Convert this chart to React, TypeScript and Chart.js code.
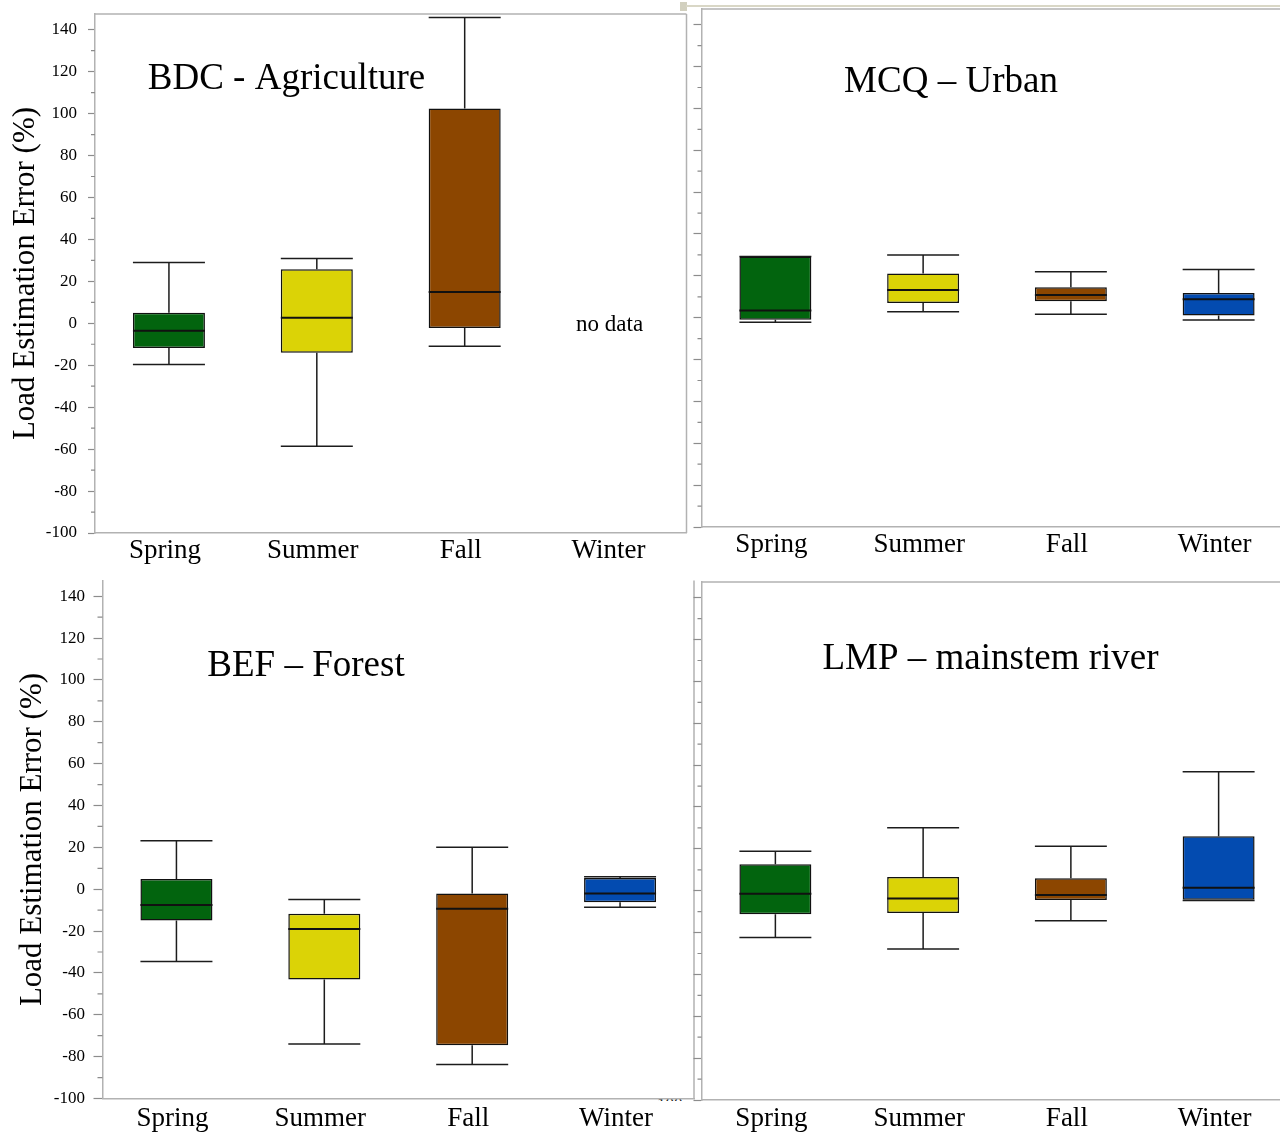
import React, { useEffect, useRef } from 'react';
import { Chart, registerables } from 'chart.js';

Chart.register(...registerables);

const seasons = ['Spring', 'Summer', 'Fall', 'Winter'];
const seasonColors = ['#02640e', '#dbd306', '#8c4600', '#034bb0'];
const yAxisTitle = 'Load Estimation Error (%)';
const yMinValue = -100;
const yMaxValue = 147.5;
const yStep = 10;
const yLabelStep = 20;

// BDC - Agriculture
const bdcTitle = 'BDC - Agriculture';
const bdcMin = [-19.7, -58.6, -11.0, null];
const bdcQ1 = [-11.8, -14.1, -2.2, null];
const bdcMedian = [-3.6, 2.7, 14.9, null];
const bdcQ3 = [5.0, 25.8, 102.4, null];
const bdcMax = [29.0, 30.9, 145.8, null];
const bdcNote = 'no data';

// MCQ - Urban
const mcqTitle = 'MCQ \u2013 Urban';
const mcqMin = [-2.2, 2.8, 1.6, -1.1];
const mcqQ1 = [-1.0, 7.0, 7.9, 1.0];
const mcqMedian = [3.4, 13.2, 10.9, 8.8];
const mcqQ3 = [29.3, 21.1, 14.5, 11.8];
const mcqMax = [29.3, 30.0, 21.9, 23.0];

// BEF - Forest
const befTitle = 'BEF \u2013 Forest';
const befMin = [-34.6, -74.0, -83.8, -8.6];
const befQ1 = [-14.9, -43.1, -74.5, -6.2];
const befMedian = [-7.6, -19.0, -9.3, -2.0];
const befQ3 = [4.9, -11.7, -2.1, 5.4];
const befMax = [23.2, -4.9, 20.1, 5.9];

// LMP - mainstem river
const lmpTitle = 'LMP \u2013 mainstem river';
const lmpMin = [-22.3, -27.9, -14.4, -4.7];
const lmpQ1 = [-11.3, -10.6, -4.4, -4.3];
const lmpMedian = [-1.5, -3.7, -2.0, 1.4];
const lmpQ3 = [12.6, 6.6, 5.9, 26.0];
const lmpMax = [18.9, 30.1, 21.3, 56.8];

const SERIF = '"Liberation Serif", "Times New Roman", serif';
const FRAME = '#b2b2b2';
const TICK = '#8c8c8c';

type Stats = {
  min: (number | null)[];
  q1: (number | null)[];
  median: (number | null)[];
  q3: (number | null)[];
  max: (number | null)[];
};

type PanelProps = {
  left: number;
  top: number;
  width: number;
  height: number;
  yWidth: number;
  xHeight: number;
  padTop: number;
  padRight: number;
  showYLabels: boolean;
  yTitlePad: number;
  tickLen: number;
  minorLen: number;
  labelPad: number;
  xPad: number;
  frameTop: boolean;
  frameRight: boolean;
  title: string;
  titleX: number;
  titleY: number;
  stats: Stats;
  note?: string;
};

function Panel(p: PanelProps) {
  const ref = useRef<HTMLCanvasElement | null>(null);
  useEffect(() => {
    if (!ref.current) return;
    const s = p.stats;

    const boxPlugin = {
      id: 'boxWhiskers',
      beforeDatasetsDraw(chart: any) {
        const meta = chart.getDatasetMeta(0);
        const y = chart.scales.y;
        const ctx = chart.ctx;
        ctx.save();
        ctx.strokeStyle = '#1c1c1c';
        ctx.lineWidth = 1.5;
        meta.data.forEach((bar: any, i: number) => {
          if (s.min[i] == null) return;
          const { x, width } = bar.getProps(['x', 'width'], true);
          const yMin = y.getPixelForValue(s.min[i]);
          const yMax = y.getPixelForValue(s.max[i]);
          const yQ1 = y.getPixelForValue(s.q1[i]);
          const yQ3 = y.getPixelForValue(s.q3[i]);
          ctx.beginPath();
          ctx.moveTo(x, yQ3);
          ctx.lineTo(x, yMax);
          ctx.moveTo(x, yQ1);
          ctx.lineTo(x, yMin);
          ctx.moveTo(x - width / 2, yMax);
          ctx.lineTo(x + width / 2, yMax);
          ctx.moveTo(x - width / 2, yMin);
          ctx.lineTo(x + width / 2, yMin);
          ctx.stroke();
        });
        ctx.restore();
      },
      afterDatasetsDraw(chart: any) {
        const meta = chart.getDatasetMeta(0);
        const y = chart.scales.y;
        const ctx = chart.ctx;
        ctx.save();
        ctx.strokeStyle = '#111';
        ctx.lineWidth = 2;
        meta.data.forEach((bar: any, i: number) => {
          if (s.median[i] == null) return;
          const { x, width } = bar.getProps(['x', 'width'], true);
          const ym = y.getPixelForValue(s.median[i]);
          ctx.beginPath();
          ctx.moveTo(x - width / 2, ym);
          ctx.lineTo(x + width / 2, ym);
          ctx.stroke();
        });
        ctx.restore();
      },
    };

    const decoPlugin = {
      id: 'deco',
      afterDraw(chart: any) {
        const ctx = chart.ctx;
        const a = chart.chartArea;
        const y = chart.scales.y;
        const x = chart.scales.x;
        ctx.save();
        ctx.strokeStyle = FRAME;
        ctx.lineWidth = 1.5;
        ctx.beginPath();
        if (p.frameTop) {
          ctx.moveTo(a.left, a.top);
          ctx.lineTo(a.right, a.top);
        }
        if (p.frameRight) {
          ctx.moveTo(a.right, a.top);
          ctx.lineTo(a.right, a.bottom);
        }
        ctx.stroke();
        ctx.strokeStyle = TICK;
        ctx.lineWidth = 1.2;
        ctx.beginPath();
        y.ticks.forEach((t: any) => {
          if (Math.abs(t.value % yLabelStep) < 1e-9) return;
          const py = y.getPixelForValue(t.value);
          ctx.moveTo(a.left - p.minorLen, py);
          ctx.lineTo(a.left, py);
        });
        ctx.stroke();
        ctx.fillStyle = '#000';
        ctx.font = `37px ${SERIF}`;
        ctx.textAlign = 'center';
        ctx.textBaseline = 'middle';
        ctx.fillText(p.title, p.titleX, p.titleY);
        if (p.note) {
          s.min.forEach((v, i) => {
            if (v != null) return;
            ctx.font = `23px ${SERIF}`;
            ctx.fillText(p.note as string, x.getPixelForValue(i) - 3, y.getPixelForValue(0) + 1.5);
          });
        }
        ctx.restore();
      },
    };

    const chart = new Chart(ref.current, {
      type: 'bar',
      data: {
        labels: seasons,
        datasets: [
          {
            data: seasons.map((_, i) =>
              s.q1[i] == null ? null : [s.q1[i] as number, s.q3[i] as number]
            ) as any,
            backgroundColor: seasonColors,
            borderColor: '#111',
            borderWidth: 1.5,
            borderSkipped: false,
            barPercentage: 0.487,
            categoryPercentage: 1,
          },
        ],
      },
      options: {
        responsive: false,
        animation: false,
        events: [],
        layout: { padding: { left: 0, top: p.padTop, right: p.padRight, bottom: 0 } },
        plugins: {
          legend: { display: false },
          tooltip: { enabled: false },
        },
        scales: {
          x: {
            type: 'category',
            offset: true,
            grid: { display: false, drawTicks: false },
            border: { display: true, color: FRAME, width: 1.5 },
            ticks: {
              color: '#000',
              font: { family: SERIF, size: 27 },
              padding: p.xPad,
              labelOffset: -4,
              maxRotation: 0,
              autoSkip: false,
            },
            afterFit: (sc: any) => {
              sc.height = p.xHeight;
              sc.paddingLeft = 0;
              sc.paddingRight = 0;
            },
          },
          y: {
            type: 'linear',
            min: yMinValue,
            max: yMaxValue,
            grid: {
              display: true,
              drawOnChartArea: false,
              drawTicks: true,
              tickLength: p.tickLen,
              tickWidth: 1.2,
              tickColor: (c: any) =>
                c.tick && Math.abs(c.tick.value % yLabelStep) < 1e-9 ? TICK : 'rgba(0,0,0,0)',
            },
            border: { display: true, color: FRAME, width: 1.5 },
            ticks: {
              display: p.showYLabels,
              stepSize: yStep,
              includeBounds: false,
              autoSkip: false,
              color: '#000',
              font: { family: SERIF, size: 17 },
              padding: p.labelPad,
              callback: (v: any) => (Math.abs(Number(v) % yLabelStep) < 1e-9 ? String(v) : ''),
            },
            title: {
              display: p.showYLabels,
              text: yAxisTitle,
              color: '#000',
              font: { family: SERIF, size: 31 },
              padding: { top: p.yTitlePad, bottom: 0 },
            },
            afterFit: (sc: any) => {
              sc.width = p.yWidth;
              sc.paddingTop = 0;
              sc.paddingBottom = 0;
            },
          },
        },
      } as any,
      plugins: [boxPlugin, decoPlugin],
    });
    return () => chart.destroy();
  }, []);
  return (
    <canvas
      ref={ref}
      width={p.width}
      height={p.height}
      style={{ position: 'absolute', left: p.left, top: p.top, width: p.width, height: p.height }}
    />
  );
}

export default function App() {
  return (
    <div
      style={{
        position: 'fixed',
        left: 0,
        top: 0,
        width: 1280,
        height: 1133,
        overflow: 'hidden',
        background: '#fff',
      }}
    >
      <div style={{ position: 'absolute', left: 680, top: 2, width: 7, height: 9, background: '#d2d0bf' }} />
      <div style={{ position: 'absolute', left: 686, top: 5, width: 600, height: 1.5, background: '#d9d7c6' }} />
      <div
        style={{
          position: 'absolute',
          left: 657,
          top: 1096,
          width: 30,
          height: 5,
          overflow: 'hidden',
        }}
      >
        <div style={{ fontFamily: SERIF, fontSize: 17, lineHeight: '17px', color: '#222', marginTop: -1 }}>100</div>
      </div>
      <Panel
        left={0}
        top={0}
        width={690}
        height={575}
        yWidth={95}
        xHeight={42}
        padTop={14}
        padRight={3.5}
        showYLabels={true}
        yTitlePad={7}
        tickLen={7}
        minorLen={4}
        labelPad={11}
        xPad={2}
        frameTop={true}
        frameRight={true}
        title={bdcTitle}
        titleX={286.5}
        titleY={79}
        stats={{ min: bdcMin, q1: bdcQ1, median: bdcMedian, q3: bdcQ3, max: bdcMax }}
        note={bdcNote}
      />
      <Panel
        left={690}
        top={0}
        width={610}
        height={570}
        yWidth={11.5}
        xHeight={43}
        padTop={9}
        padRight={7.5}
        showYLabels={false}
        yTitlePad={0}
        tickLen={8}
        minorLen={4}
        labelPad={0}
        xPad={1.5}
        frameTop={true}
        frameRight={true}
        title={mcqTitle}
        titleX={261}
        titleY={81.8}
        stats={{ min: mcqMin, q1: mcqQ1, median: mcqMedian, q3: mcqQ3, max: mcqMax }}
      />
      <Panel
        left={0}
        top={575}
        width={697}
        height={558}
        yWidth={102.5}
        xHeight={34.5}
        padTop={5.5}
        padRight={3}
        showYLabels={true}
        yTitlePad={14.5}
        tickLen={9}
        minorLen={5}
        labelPad={8.5}
        xPad={4}
        frameTop={false}
        frameRight={true}
        title={befTitle}
        titleX={306}
        titleY={91.4}
        stats={{ min: befMin, q1: befQ1, median: befMedian, q3: befQ3, max: befMax }}
      />
      <Panel
        left={688}
        top={575}
        width={612}
        height={558}
        yWidth={13.5}
        xHeight={33}
        padTop={7}
        padRight={7.5}
        showYLabels={false}
        yTitlePad={0}
        tickLen={8}
        minorLen={4}
        labelPad={0}
        xPad={2.5}
        frameTop={true}
        frameRight={true}
        title={lmpTitle}
        titleX={302.5}
        titleY={84.6}
        stats={{ min: lmpMin, q1: lmpQ1, median: lmpMedian, q3: lmpQ3, max: lmpMax }}
      />
    </div>
  );
}
